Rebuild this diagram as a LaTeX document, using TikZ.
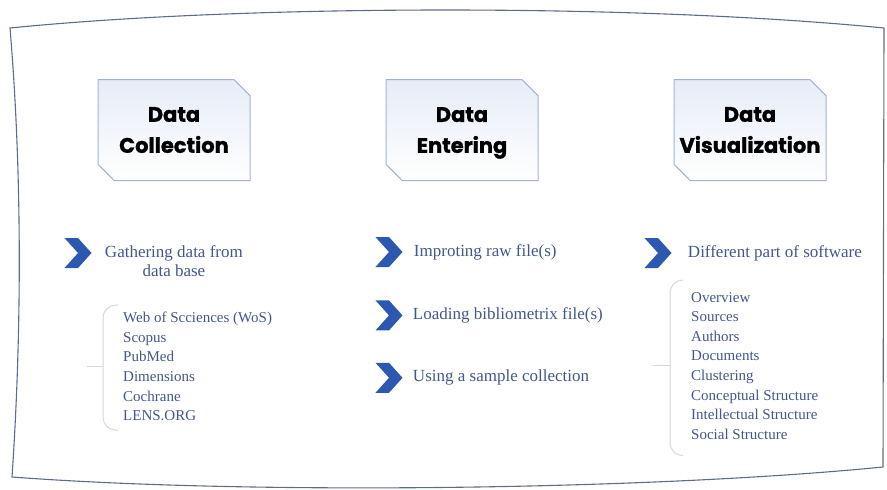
\documentclass[tikz,border=0pt]{standalone}
\usepackage{fontspec}
\setmainfont{Liberation Serif}
\newfontfamily\headfont{Poppins}[BoldFeatures={FakeBold=1.2}]
\usetikzlibrary{positioning,shapes.misc,shapes.symbols}

\definecolor{framegray}{HTML}{5E6C8A}
\definecolor{boxline}{HTML}{A3B3D1}
\definecolor{boxtint}{HTML}{E6ECF7}
\definecolor{chevblue}{HTML}{2D58B0}
\definecolor{textblue}{HTML}{43578E}
\definecolor{bracegray}{HTML}{D4D7DE}

\begin{document}
\begin{tikzpicture}[x=1pt, y=-1pt,
    stage/.style={chamfered rectangle, chamfered rectangle corners={north east,south west},
        chamfered rectangle xsep=13pt, draw=boxline, line width=1pt, top color=boxtint, bottom color=white,
        minimum width=152pt, minimum height=101pt, inner sep=0pt, align=center,
        font=\headfont\bfseries\fontsize{21}{31}\selectfont},
    chev/.style={signal, signal from=west, signal to=east, signal pointer angle=96,
        fill=chevblue, minimum width=27pt, minimum height=30pt, inner sep=0pt},
    steptext/.style={text=textblue, inner sep=0pt, font=\fontsize{17}{19}\selectfont},
    itemlist/.style={text=textblue, inner sep=0pt, align=left, font=\fontsize{15}{19.6}\selectfont},
    brace/.style={draw=bracegray, line width=1pt, rounded corners=13pt},
    frame/.style={draw=framegray, line width=1.1pt}
]
    \useasboundingbox (0,0) rectangle (887,490);
    % outer frame
    \draw[frame] (10,28) .. controls (250,4) and (640,4) .. (884,28) -- (883,467)
        .. controls (650,490) and (250,495) .. (12,477) .. controls (22,330) and (22,170) .. cycle;

    % the three stages
    \node[stage] (collect) at (174,130) {Data\\Collection};
    \node[stage] (enter) at (462,130) {Data\\\smash{Entering}};
    \node[stage] (visual) at (750,130) {Data\\\makebox[120pt]{Visualization}};

    % data collection
    \node[chev] (c1) at (78,253) {};
    \node[steptext, align=center, right=13pt of c1, yshift=-8pt] (gather) {Gathering data from\\data base};
    \node[itemlist, anchor=north west] (dbs) at (123,312)
        {Web of Scciences (WoS)\\Scopus\\PubMed\\Dimensions\\Cochrane\\LENS.ORG};
    \draw[brace] ([shift={(-5pt,7pt)}]dbs.north west) -| ([shift={(-20pt,-9pt)}]dbs.south west) -- ++(15,0);
    \draw[brace] ([xshift=-20pt]dbs.west) -- ++(-16,0);

    % data entering
    \node[chev] (c2) at (389,252) {};
    \node[chev, below=33pt of c2] (c3) {};
    \node[chev, below=32pt of c3] (c4) {};
    \node[steptext, right=11pt of c2] (raw) {Improting raw file(s)};
    \node[steptext, right=10pt of c3] (biblio) {Loading bibliometrix file(s)};
    \node[steptext, right=10pt of c4] (sample) {Using a sample collection};

    % data visualization
    \node[chev] (c5) at (658,253) {};
    \node[steptext, right=16pt of c5] (parts) {Different part of software};
    \node[itemlist, anchor=north west] (tabs) at (691,292)
        {Overview\\Sources\\Authors\\Documents\\Clustering\\Conceptual Structure\\Intellectual Structure\\Social Structure};
    \draw[brace] ([shift={(-8pt,12pt)}]tabs.north west) -| ([shift={(-21pt,-16pt)}]tabs.south west) -- ++(13,0);
    \draw[brace] ([xshift=-21pt]tabs.west) -- ++(-17,0);
\end{tikzpicture}
\end{document}
